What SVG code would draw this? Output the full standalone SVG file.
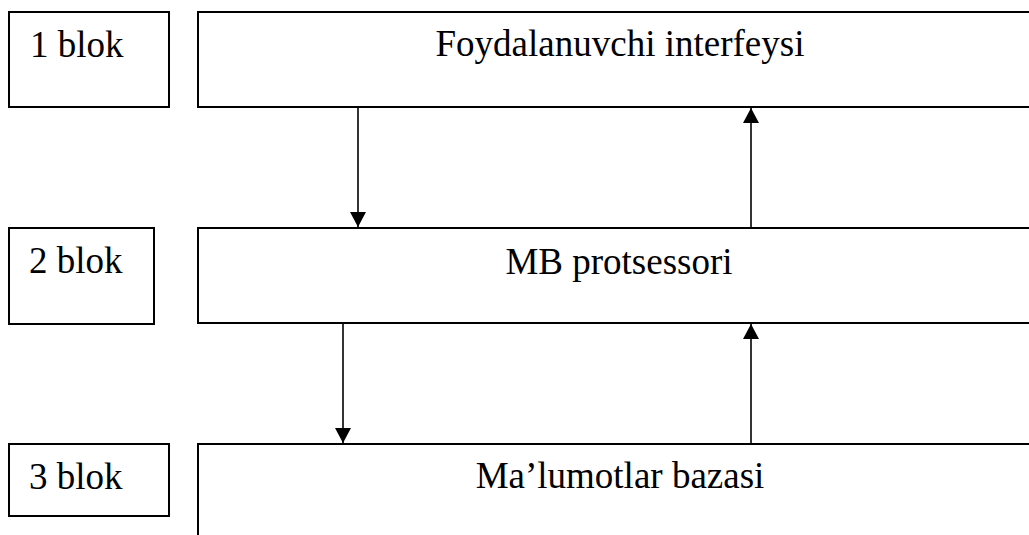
<svg xmlns="http://www.w3.org/2000/svg" width="1029" height="535" viewBox="0 0 1029 535">
<style>
.box{fill:#fff;stroke:#000;stroke-width:2}
.t{font-family:'Liberation Serif','Times New Roman','DejaVu Serif',serif;font-size:37px;fill:#000}
.c{text-anchor:middle}
.ln{stroke:#000;stroke-width:1.6;fill:none}
</style>
<defs>
<marker id="ah" viewBox="0 0 15 16" refX="15" refY="8" markerWidth="15" markerHeight="16" markerUnits="userSpaceOnUse" orient="auto">
<path d="M0,0 L15,8 L0,16 z" fill="#000"/>
</marker>
</defs>
<rect width="1029" height="535" fill="#fff"/>
<g id="blok1"><rect class="box" x="9" y="12" width="160" height="95"/><text class="t" x="30" y="57">1 blok</text></g>
<g id="ui"><rect class="box" x="198" y="12" width="850" height="95"/><text class="t c" x="620" y="56">Foydalanuvchi interfeysi</text></g>
<g id="blok2"><rect class="box" x="9" y="228" width="145" height="96"/><text class="t" x="29" y="273">2 blok</text></g>
<g id="mb"><rect class="box" x="198" y="228" width="850" height="95"/><text class="t c" x="619" y="274">MB protsessori</text></g>
<g id="blok3"><rect class="box" x="9" y="444" width="160" height="72"/><text class="t" x="29" y="489">3 blok</text></g>
<g id="db"><rect class="box" x="198" y="444" width="850" height="120"/><text class="t c" x="620" y="488">Ma’lumotlar bazasi</text></g>
<g id="connectors">
<line class="ln" x1="358" y1="108" x2="358" y2="227" marker-end="url(#ah)"/>
<line class="ln" x1="751" y1="227" x2="751" y2="108" marker-end="url(#ah)"/>
<line class="ln" x1="343" y1="324" x2="343" y2="443" marker-end="url(#ah)"/>
<line class="ln" x1="751" y1="443" x2="751" y2="324" marker-end="url(#ah)"/>
</g>
</svg>
